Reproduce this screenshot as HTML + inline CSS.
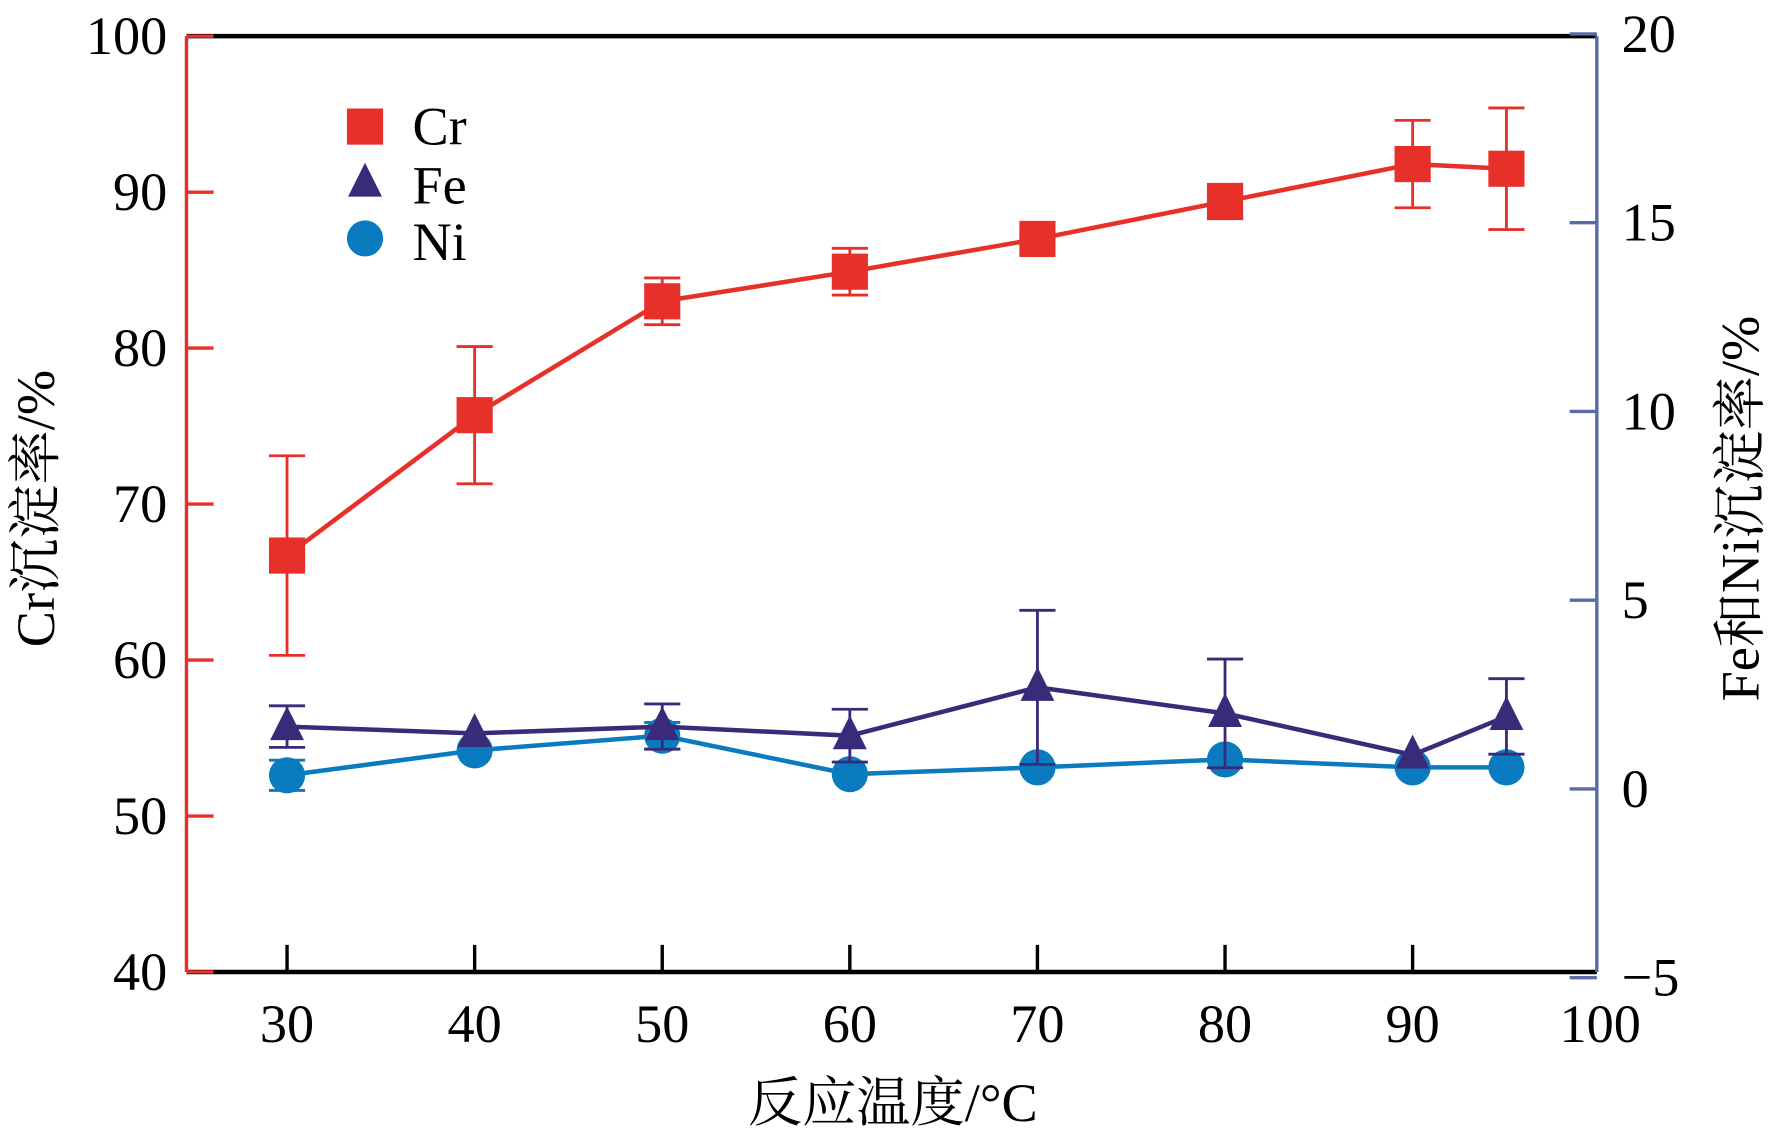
<!DOCTYPE html>
<html><head><meta charset="utf-8"><style>
html,body{margin:0;padding:0;background:#fff;}
svg{display:block;}
text{font-family:"Liberation Serif","Noto Serif CJK SC",serif;}
</style></head><body>
<svg id="chart" width="1772" height="1137" viewBox="0 0 1568 1006" preserveAspectRatio="none" xmlns="http://www.w3.org/2000/svg"></svg>
<script>
const categories=[30,40,50,60,70,80,90,95];
const crValues=[66.7,75.7,83.0,84.9,87.0,89.4,91.8,91.5];
const crErr=[6.4,4.4,1.5,1.5,0.3,1.1,2.8,3.9];
const feValues=[1.65,1.47,1.65,1.41,2.69,2.0,0.9,1.92];
const feErr=[0.55,0,0.6,0.7,2.04,1.44,0,1.0];
const niValues=[0.36,1.02,1.41,0.39,0.57,0.78,0.57,0.57];
const niErr=[0.4,0,0.35,0,0,0,0,0];
const xTicks=[30,40,50,60,70,80,90,100];
const yLeftTicks=[40,50,60,70,80,90,100];
const yRightTicks=[-5,0,5,10,15,20];
const L=165,R=1413,T=32,B=860;
const xS=v=>254+(v-30)*16.6;
const yL=v=>B-(v-40)*(B-T)/60;
const yR=v=>698-v*33.4;
const svg=document.getElementById('chart');
const NS='http://www.w3.org/2000/svg';
function mk(tag,attrs,parent){const e=document.createElementNS(NS,tag);for(const k in attrs)e.setAttribute(k,attrs[k]);(parent||svg).appendChild(e);return e;}
let a=mk('line',{x1:L,y1:T,x2:R,y2:T,stroke:'#000','stroke-width':4});

a=mk('line',{x1:L,y1:B,x2:R,y2:B,stroke:'#000','stroke-width':4});

a=mk('line',{x1:L,y1:T,x2:L,y2:B,stroke:'#e8302a','stroke-width':3});

a=mk('line',{x1:R,y1:T,x2:R,y2:B,stroke:'#5b6aa8','stroke-width':3});

xTicks.forEach(v=>{const x=xS(v);
 if(v<100){let t=mk('line',{x1:x,y1:B,x2:x,y2:B-24,stroke:'#000','stroke-width':3});
 }
 let l=mk('text',{x:x,y:922,'font-size':48,'text-anchor':'middle'});l.textContent=v;
 });
yLeftTicks.forEach(v=>{const y=yL(v);
 let t=mk('line',{x1:L,y1:y,x2:L+24,y2:y,stroke:'#e8302a','stroke-width':3});
 
 let l=mk('text',{x:148,y:y+16,'font-size':48,'text-anchor':'end'});l.textContent=v;
 });
yRightTicks.forEach(v=>{const y=yR(v);
 let t=mk('line',{x1:R,y1:y,x2:R-24,y2:y,stroke:'#5b6aa8','stroke-width':3});
 
 let l=mk('text',{x:1435,y:y+16,'font-size':48});l.textContent=v<0?'\u2212'+(-v):v;
 });
function series(vals,errs,ys,color,shape,name){
 const g=mk('g',{});
 vals.forEach((v,i)=>{if(errs[i]>0){const x=xS(categories[i]),y1=ys(v+errs[i]),y2=ys(v-errs[i]);
  const e=mk('path',{d:`M${x},${y1}V${y2}M${x-16},${y1}H${x+16}M${x-16},${y2}H${x+16}`,stroke:color,'stroke-width':2.5,fill:'none'},g);
  }});
 const p=mk('polyline',{points:vals.map((v,i)=>xS(categories[i])+','+ys(v)).join(' '),stroke:color,'stroke-width':4,fill:'none'},g);
 
 vals.forEach((v,i)=>{const x=xS(categories[i]),y=ys(v);let m;
  if(shape==='sq')m=mk('rect',{x:x-16,y:y-16,width:32,height:32,fill:color},g);
  else if(shape==='tri')m=mk('polygon',{points:`${x},${y-18} ${x-15},${y+12} ${x+15},${y+12}`,fill:color},g);
  else m=mk('circle',{cx:x,cy:y,r:16,fill:color},g);
  });
}
series(niValues,niErr,yR,'#0a7bbf','circ','ni');
series(feValues,feErr,yR,'#3a2a7a','tri','fe');
series(crValues,crErr,yL,'#e8302a','sq','cr');
const lg=mk('g',{});
let m=mk('rect',{x:307,y:96,width:32,height:32,fill:'#e8302a'},lg);
m=mk('polygon',{points:'323,144 308,174 338,174',fill:'#3a2a7a'},lg);
m=mk('circle',{cx:323,cy:211,r:16,fill:'#0a7bbf'},lg);
[['Cr',128],['Fe',180],['Ni',230]].forEach(([t,y])=>{const l=mk('text',{x:365,y:y,'font-size':48},lg);l.textContent=t;
 });
let tt=mk('text',{x:790,y:992,'font-size':48,'text-anchor':'middle'});tt.textContent='反应温度/°C';

tt=mk('text',{x:0,y:0,'font-size':48,'text-anchor':'middle',transform:'translate(48,450) rotate(-90)'});tt.textContent='Cr沉淀率/%';

tt=mk('text',{x:0,y:0,'font-size':48,'text-anchor':'middle',transform:'translate(1556,450) rotate(-90)'});tt.textContent='Fe和Ni沉淀率/%';

</script>
</body></html>
